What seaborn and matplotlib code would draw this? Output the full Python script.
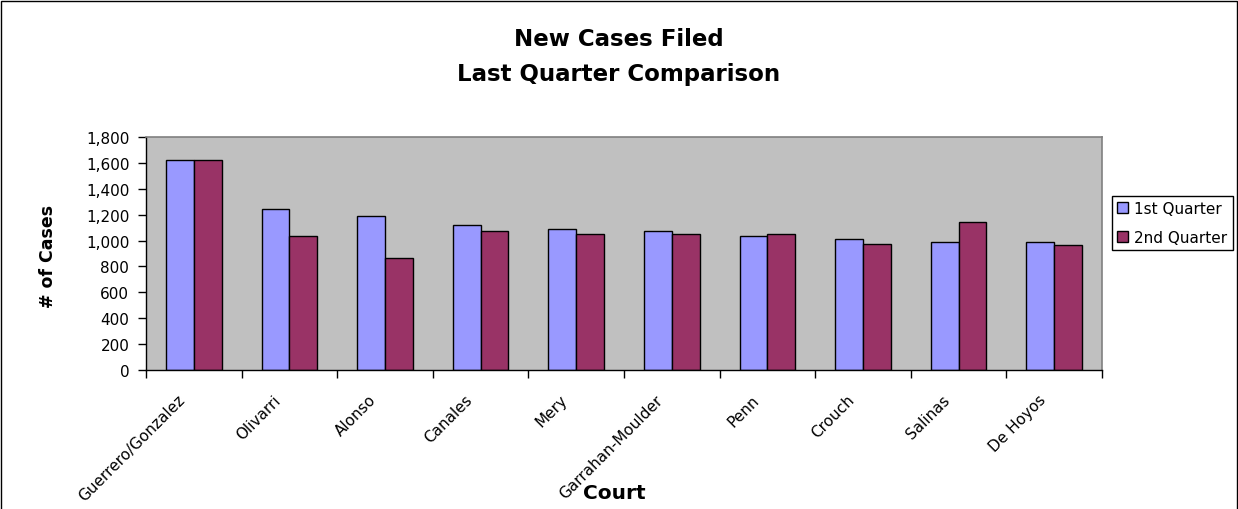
import numpy as np
import pandas as pd
import matplotlib
matplotlib.use("Agg")
import matplotlib.pyplot as plt
import matplotlib.transforms as mtransforms
from matplotlib.patches import Rectangle
from matplotlib.ticker import FuncFormatter, FixedLocator
import seaborn as sns

# chart data
courts = ["Guerrero/Gonzalez", "Olivarri", "Alonso", "Canales", "Mery",
          "Garrahan-Moulder", "Penn", "Crouch", "Salinas", "De Hoyos"]
q1 = [1626, 1247, 1190, 1123, 1090, 1077, 1033, 1010, 987, 987]
q2 = [1626, 1033, 865, 1077, 1053, 1053, 1053, 976, 1144, 966]
series = ["1st Quarter", "2nd Quarter"]
colors = ["#9999FF", "#993366"]
yticks = [0, 200, 400, 600, 800, 1000, 1200, 1400, 1600, 1800]

df = pd.DataFrame({
    "Court": courts * 2,
    "Cases": q1 + q2,
    "Quarter": [series[0]] * len(courts) + [series[1]] * len(courts),
})

sns.set_style("white")
plt.rcParams["font.family"] = ["DejaVu Sans"]
plt.rcParams["text.color"] = "black"
plt.rcParams["axes.labelcolor"] = "black"
plt.rcParams["xtick.color"] = "black"
plt.rcParams["ytick.color"] = "black"

fig = plt.figure(figsize=(12.38, 5.10), dpi=100)
ax = fig.add_axes([146 / 1238, 1 - 371 / 510, 956 / 1238, 233 / 510])
ax.set_facecolor("#C0C0C0")

sns.barplot(data=df, x="Court", y="Cases", hue="Quarter", palette=colors,
            saturation=1, width=0.58, edgecolor="black", linewidth=1,
            ax=ax, legend=True)

ax.set_ylim(0, 1800)
ax.set_xlim(-0.5, len(courts) - 0.5)
ax.set_yticks(yticks)
ax.yaxis.set_major_formatter(FuncFormatter(lambda v, p: f"{int(v):,}"))
ax.tick_params(axis="y", direction="out", length=6, width=1, color="black",
               labelsize=11, left=True, pad=6)

# Excel style: ticks between categories, labels at centres
ax.set_xticks(range(len(courts)))
ax.set_xticklabels(courts, rotation=45, ha="right", va="center",
                   rotation_mode="anchor", fontsize=11)
ax.tick_params(axis="x", which="major", length=0, pad=0)
shift = mtransforms.ScaledTranslation(-11 / 100, -27 / 100, fig.dpi_scale_trans)
for lbl in ax.get_xticklabels():
    lbl.set_transform(lbl.get_transform() + shift)
ax.xaxis.set_minor_locator(FixedLocator(np.arange(-0.5, len(courts), 1.0)))
ax.tick_params(axis="x", which="minor", direction="out", length=6, width=1,
               color="black", bottom=True)

for side in ["left", "bottom"]:
    ax.spines[side].set_color("black")
    ax.spines[side].set_linewidth(1)
for side in ["top", "right"]:
    ax.spines[side].set_color("#808080")
    ax.spines[side].set_linewidth(1.2)

ax.set_xlabel("Court", fontsize=14.5, fontweight="bold")
ax.xaxis.set_label_coords(0.49, -0.524)
ax.xaxis.label.set_va("center")
ax.set_ylabel("# of Cases", fontsize=12.5, fontweight="bold")
ax.yaxis.set_label_coords(-0.103, 0.49)
ax.yaxis.label.set_va("center")

fig.text(0.5, 1 - 40 / 510, "New Cases Filed", ha="center", va="center",
         fontsize=16.5, fontweight="bold")
fig.text(0.5, 1 - 75 / 510, "Last Quarter Comparison", ha="center", va="center",
         fontsize=16.5, fontweight="bold")

handles, labels = ax.get_legend_handles_labels()
ax.legend(handles, labels, loc="center left",
          bbox_to_anchor=(1112 / 1238, 1 - 224 / 510), bbox_transform=fig.transFigure,
          frameon=True, fancybox=False, edgecolor="black", framealpha=1,
          fontsize=11, handlelength=0.7, handleheight=0.7, handletextpad=0.4,
          borderpad=0.35, labelspacing=0.9, borderaxespad=0)
ax.get_legend().get_frame().set_linewidth(1)

# outer chart border
fig.patches.append(Rectangle((0.5 / 1238, -0.1), 1236 / 1238, 1.1 - 1.5 / 510,
                             transform=fig.transFigure, fill=False,
                             edgecolor="black", linewidth=1))

fig.savefig("out.png", dpi=100)
